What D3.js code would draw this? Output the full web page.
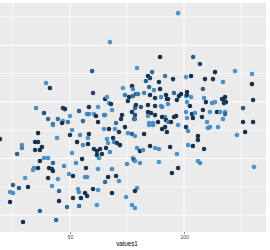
<!DOCTYPE html>
<html><head><meta charset="utf-8">
<script src="https://cdn.jsdelivr.net/npm/d3@7"></script>
<style>html,body{margin:0;padding:0;background:#fff;}svg{display:block;}</style>
</head><body>
<script>
const values1 = [67.5,59.7,39.5,41.2,60.1,73.2,77.2,77.6,74.1,75.9,75.4,77.6,65.4,66.2,67.1,68.0,35.1,38.6,46.9,47.8,54.0,58.3,62.3,68.4,57.5,58.3,60.5,61.4,64.9,65.4,72.8,77.2,78.5,40.4,44.7,50.0,46.9,46.5,42.5,49.1,55.7,62.3,70.2,72.4,78.1,
97.4,89.5,104.0,107.0,79.4,84.2,85.1,86.0,83.3,89.0,91.7,95.2,100.9,103.1,113.6,109.2,112.7,122.4,117.1,129.8,129.8,84.7,86.8,89.5,78.9,79.8,82.5,85.1,87.3,89.9,92.1,92.5,93.0,95.6,97.8,98.7,96.9,100.9,101.3,101.3,103.1,108.3,108.8,109.6,112.3,113.6,116.7,117.5,118.4,118.0,117.5,130.3,78.9,81.1,84.2,87.3,89.9,90.4,93.0,101.3,102.6,108.3,111.4,114.5,115.8,118.0,125.9,84.2,85.5,87.3,84.2,91.7,90.4,95.6,96.5,100.9,103.5,104.8,101.3,103.9,107.9,110.1,117.1,118.0,125.9,130.3,78.5,78.5,84.7,86.4,88.6,92.1,93.0,94.3,
42.5,19.3,36.0,50.9,54.4,58.3,64.9,67.1,69.7,71.5,74.1,75.4,77.2,34.7,36.0,37.7,44.3,50.0,53.1,55.7,57.9,57.9,60.5,61.8,63.2,65.8,66.7,67.5,68.9,69.3,70.6,71.9,66.2,61.8,62.7,64.0,28.9,28.9,34.7,36.8,26.8,38.6,40.4,36.8,42.5,34.2,33.8,40.8,42.1,42.5,36.0,30.3,40.4,44.7,47.4,50.9,52.6,55.3,57.0,51.3,49.6,56.6,57.5,62.3,65.4,66.7,68.4,70.2,71.5,75.0,77.6,78.1,25.0,27.6,31.6,42.1,45.2,53.5,53.9,56.6,57.5,54.8,51.3,60.1,62.3,68.4,74.6,77.2,23.7,25.0,23.7,45.2,48.7,54.0,61.8,36.8,43.9,29.4,
84.7,86.4,90.4,91.7,92.5,97.4,100.9,101.8,110.5,111.4,114.9,126.8,123.2,82.5,78.5,106.1,106.1,79.4,80.7,82.0,85.1,87.3,89.0,93.9,101.8,103.9,108.8,96.9,78.5,80.7,89.0,97.4,94.7,106.1,107.0,130.7,79.4,78.5,78.5];
const values2 = [152.8,127.2,116.6,112.2,107.8,112.2,114.0,111.3,106.0,104.2,100.7,105.1,102.5,104.2,98.9,98.1,94.5,90.1,94.5,93.6,91.9,95.4,95.4,92.8,89.2,89.2,89.2,87.5,88.3,88.3,88.3,91.0,94.5,84.8,84.8,87.5,83.0,81.3,80.4,82.2,83.0,82.2,81.3,84.8,84.8,
178.4,139.6,139.6,133.4,129.9,122.8,121.0,126.3,118.4,117.5,122.8,120.1,121.9,122.8,126.3,120.1,120.1,127.2,117.5,124.6,115.7,113.1,110.4,111.3,106.9,106.9,107.8,106.0,103.4,104.2,106.0,102.5,102.5,107.8,105.1,106.9,101.6,105.1,108.7,106.0,104.2,111.3,103.4,99.8,98.9,99.8,102.5,100.7,99.8,104.2,98.9,101.6,97.2,95.4,97.2,96.3,96.3,95.4,98.1,99.8,96.3,92.8,91.0,91.0,91.0,91.0,94.5,91.0,90.1,88.3,87.5,86.6,86.6,86.6,87.5,91.0,89.2,90.1,85.7,85.7,86.6,82.2,84.8,89.2,82.2,82.2,88.3,84.8,81.3,81.3,82.2,83.9,82.2,82.2,
79.5,67.1,72.4,75.1,70.7,71.6,76.0,76.0,76.0,73.3,77.7,72.4,71.6,64.5,64.5,60.1,68.0,70.7,64.5,61.8,68.0,62.7,58.3,56.5,58.3,59.2,63.6,55.7,68.0,64.5,63.6,61.8,67.1,53.0,50.4,53.9,61.8,59.2,57.4,57.4,53.9,50.4,50.4,47.7,45.9,41.5,39.8,41.5,40.6,38.9,41.5,32.7,32.7,31.8,43.3,54.8,45.9,49.5,41.5,34.5,36.2,33.6,33.6,40.6,29.2,33.6,40.6,34.5,30.0,45.1,50.4,48.6,26.5,23.9,24.7,25.6,21.2,23.0,20.3,19.4,16.8,15.0,15.0,23.0,22.1,19.4,15.9,8.8,20.3,19.4,11.5,12.4,7.1,8.0,8.8,3.5,-4.4,-6.2,
79.5,79.5,76.0,77.7,73.3,79.5,77.7,74.2,76.9,77.7,77.7,73.3,70.7,71.6,69.8,69.8,66.3,59.2,56.5,57.4,61.0,59.2,58.3,60.1,61.8,61.0,58.3,53.9,47.7,45.9,46.8,41.5,37.1,47.7,45.9,42.4,23.9,21.2,6.2];
const values3 = [0.8,0.4,0.8,0.1,0.2,0.85,0.05,0.7,0.6,0.1,0.1,0.5,0.05,0.8,0.8,0.1,0.75,0.3,0.15,0.1,0.4,0.1,0.8,0.8,0.75,0.7,0.8,0.05,0.75,0.7,0.1,0.1,0.5,0.5,0.55,0.85,0.8,0.1,0.5,0.6,0.5,0.05,0.55,0.1,0.4,
0.8,0.05,0.4,0.25,0.8,0.05,0.2,0.55,0.45,0.05,0.6,0.1,0.85,0.05,0.05,0.1,0.1,0.8,0.75,0.8,0.05,0.5,0.75,0.05,0.5,0.6,0.7,0.05,0.1,0.75,0.05,0.1,0.05,0.5,0.1,0.05,0.1,0.8,0.05,0.15,0.8,0.45,0.8,0.1,0.75,0.8,0.1,0.05,0.1,0.05,0.15,0.1,0.1,0.4,0.05,0.1,0.8,0.7,0.75,0.8,0.05,0.1,0.8,0.05,0.75,0.8,0.4,0.05,0.1,0.1,0.8,0.75,0.05,0.1,0.05,0.8,0.1,0.75,0.8,0.05,0.1,0.8,0.75,0.5,0.1,0.1,0.3,0.6,0.8,0.75,0.05,0.1,0.75,0.1,
0.7,0.1,0.05,0.8,0.75,0.05,0.8,0.05,0.8,0.1,0.05,0.8,0.4,0.05,0.1,0.05,0.8,0.1,0.05,0.75,0.8,0.05,0.1,0.05,0.1,0.05,0.8,0.75,0.05,0.7,0.1,0.05,0.8,0.1,0.8,0.1,0.75,0.7,0.1,0.05,0.45,0.8,0.75,0.1,0.5,0.75,0.8,0.05,0.1,0.05,0.1,0.85,0.1,0.8,0.75,0.8,0.75,0.05,0.1,0.05,0.8,0.8,0.75,0.8,0.5,0.05,0.75,0.1,0.8,0.75,0.8,0.1,0.45,0.4,0.05,0.8,0.5,0.8,0.75,0.05,0.1,0.05,0.1,0.1,0.8,0.05,0.8,0.8,0.8,0.75,0.05,0.05,0.5,0.55,0.8,0.45,0.5,0.05,
0.8,0.75,0.05,0.1,0.05,0.8,0.1,0.75,0.8,0.75,0.8,0.05,0.8,0.05,0.8,0.05,0.1,0.8,0.05,0.75,0.05,0.8,0.75,0.05,0.8,0.05,0.1,0.8,0.8,0.75,0.8,0.1,0.05,0.8,0.75,0.8,0.8,0.05,0.8];
const xTicks = [50, 100];
const xMinor = [25, 75, 125];
const yMajor = [0, 50, 100, 150];
const yMinor = [25, 75, 125, 175];
const xTitle = "values1";

const W = 270, H = 250;
const panel = {left: 0, right: 266, top: 3, bottom: 232};
const svg = d3.select("body").append("svg").attr("width", W).attr("height", H);
const x = d3.scaleLinear().domain([50, 100]).range([70, 184]);
const y = d3.scaleLinear().domain([0, 175]).range([215, 17]);
const col = d3.scaleLinear().domain([0, 1]).range(["#132B43", "#56B1F7"]).interpolate(d3.interpolateLab);

svg.append("rect").attr("x", panel.left).attr("y", panel.top)
  .attr("width", panel.right - panel.left).attr("height", panel.bottom - panel.top).attr("fill", "#EBEBEB");

const g = svg.append("g");
g.selectAll("line.xmin").data(xMinor).join("line").attr("class","xmin")
  .attr("x1", d => x(d)).attr("x2", d => x(d)).attr("y1", panel.top).attr("y2", panel.bottom)
  .attr("stroke", "#fff").attr("stroke-width", 0.6);
g.selectAll("line.ymin").data(yMinor).join("line").attr("class","ymin")
  .attr("y1", d => y(d)).attr("y2", d => y(d)).attr("x1", panel.left).attr("x2", panel.right)
  .attr("stroke", "#fff").attr("stroke-width", 0.6);
g.selectAll("line.xmaj").data(xTicks).join("line").attr("class","xmaj")
  .attr("x1", d => x(d)).attr("x2", d => x(d)).attr("y1", panel.top).attr("y2", panel.bottom)
  .attr("stroke", "#fff").attr("stroke-width", 1);
g.selectAll("line.ymaj").data(yMajor).join("line").attr("class","ymaj")
  .attr("y1", d => y(d)).attr("y2", d => y(d)).attr("x1", panel.left).attr("x2", panel.right)
  .attr("stroke", "#fff").attr("stroke-width", 1);

const pts = values1.map((v, i) => ({x: v, y: values2[i], c: values3[i]}));
svg.append("g").selectAll("circle").data(pts).join("circle")
  .attr("cx", d => x(d.x)).attr("cy", d => y(d.y)).attr("r", 2.3)
  .attr("fill", d => col(d.c));

const axis = d3.axisBottom(x).tickValues(xTicks).tickSize(2).tickPadding(1.5);
const ax = svg.append("g").attr("transform", `translate(0,${panel.bottom})`).call(axis);
ax.select(".domain").remove();
ax.selectAll(".tick line").attr("stroke", "#333333").attr("stroke-width", 0.6);
ax.selectAll(".tick text").attr("fill", "#4D4D4D").attr("font-size", 5.2)
  .attr("font-family", "Liberation Sans, Arial, sans-serif");

svg.append("text").attr("x", 127).attr("y", 246).attr("text-anchor", "middle")
  .attr("font-family", "Liberation Sans, Arial, sans-serif").attr("font-size", 6.3)
  .attr("fill", "#000").text(xTitle);
</script>
</body></html>
